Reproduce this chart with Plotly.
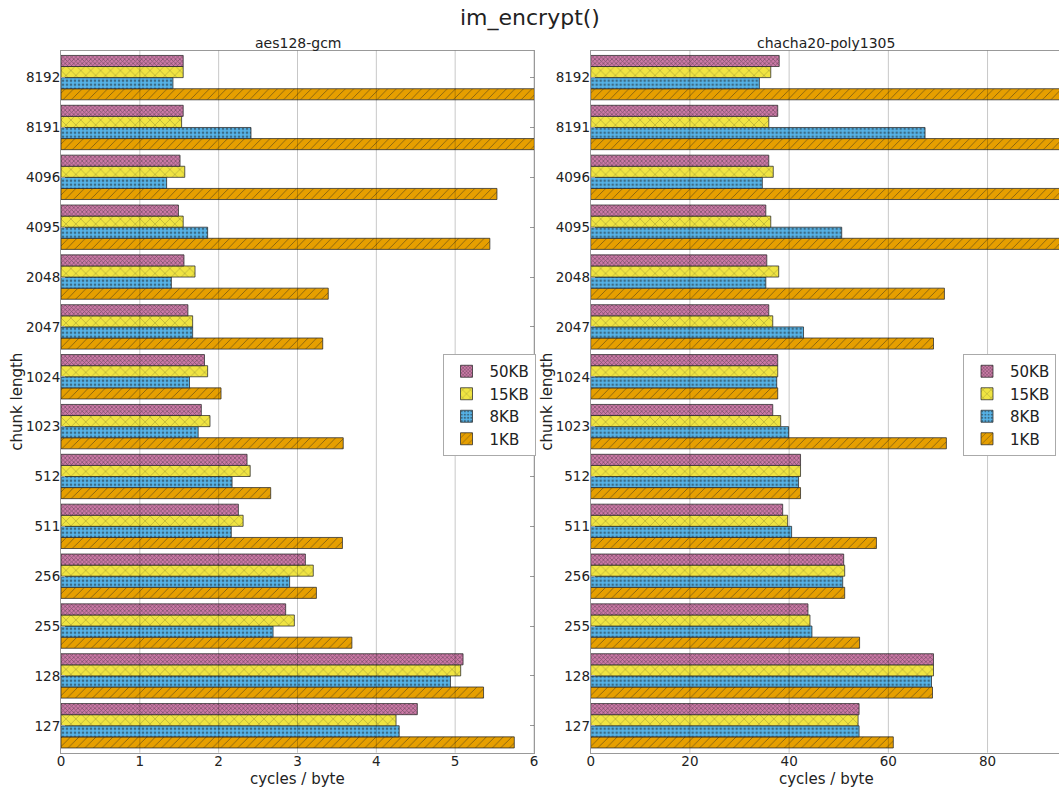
import plotly.graph_objects as go

# chunk lengths, listed top to bottom as shown
chunk_lengths = ["8192", "8191", "4096", "4095", "2048", "2047", "1024",
                 "1023", "512", "511", "256", "255", "128", "127"]
buffer_sizes = ["50KB", "15KB", "8KB", "1KB"]

# cycles / byte, aes128-gcm
aes_50kb = [1.55, 1.55, 1.51, 1.49, 1.56, 1.61, 1.82, 1.78, 2.36, 2.25, 3.10, 2.85, 5.10, 4.52]
aes_15kb = [1.55, 1.53, 1.57, 1.55, 1.70, 1.67, 1.86, 1.89, 2.40, 2.31, 3.20, 2.96, 5.07, 4.25]
aes_8kb = [1.42, 2.41, 1.34, 1.86, 1.40, 1.67, 1.63, 1.74, 2.17, 2.16, 2.90, 2.69, 4.94, 4.29]
aes_1kb = [6.9, 6.7, 5.53, 5.44, 3.39, 3.32, 2.03, 3.58, 2.66, 3.57, 3.24, 3.69, 5.36, 5.75]

# cycles / byte, chacha20-poly1305
cha_50kb = [38.0, 37.7, 35.9, 35.3, 35.5, 35.9, 37.7, 36.7, 42.3, 38.7, 51.0, 43.8, 69.1, 54.1]
cha_15kb = [36.3, 35.9, 36.8, 36.3, 37.9, 36.7, 37.7, 38.3, 42.3, 39.7, 51.2, 44.2, 69.1, 53.9]
cha_8kb = [34.0, 67.4, 34.6, 50.6, 35.3, 42.9, 37.5, 39.9, 41.9, 40.5, 50.8, 44.6, 68.7, 54.1]
cha_1kb = [112.0, 110.0, 106.0, 104.0, 71.3, 69.1, 37.7, 71.7, 42.3, 57.6, 51.2, 54.2, 68.9, 61.0]

aes_ticks = [0, 1, 2, 3, 4, 5, 6]
cha_ticks = [0, 20, 40, 60, 80]

aes_series = {"50KB": aes_50kb, "15KB": aes_15kb, "8KB": aes_8kb, "1KB": aes_1kb}
cha_series = {"50KB": cha_50kb, "15KB": cha_15kb, "8KB": cha_8kb, "1KB": cha_1kb}

styles = {
    "50KB": dict(color="#CC79A7", shape="x", size=3, solidity=0.4),
    "15KB": dict(color="#F0E442", shape="x", size=7, solidity=0.12),
    "8KB": dict(color="#56B4E9", shape=".", size=4, solidity=0.35),
    "1KB": dict(color="#E69F00", shape="/", size=6, solidity=0.15),
}

FONT = "DejaVu Sans"
INK = "#222"
fig = go.Figure()

# bottom-most bar in each group first, so 50KB sits on top
for series, xa, ya, leg in [(aes_series, "x", "y", "legend"),
                            (cha_series, "x2", "y2", "legend2")]:
    for name in reversed(buffer_sizes):
        st = styles[name]
        fig.add_trace(go.Bar(
            x=series[name], y=chunk_lengths, orientation="h", name=name,
            xaxis=xa, yaxis=ya, legend=leg,
            marker=dict(color=st["color"],
                        line=dict(color="rgba(40,40,40,0.75)", width=1),
                        pattern=dict(shape=st["shape"], size=st["size"],
                                     solidity=st["solidity"], fgcolor="#222",
                                     fillmode="overlay")),
        ))

order_bottom_up = list(reversed(chunk_lengths))
W, H = 1059, 787
px = lambda v: v / W
py = lambda v: (H - v) / H

y_common = dict(type="category", categoryorder="array", categoryarray=order_bottom_up,
                range=[-0.54, 13.54], domain=[py(752.7), py(50.7)], automargin=False,
                showgrid=False, showline=True, linecolor="#999", linewidth=1,
                ticks="inside", ticklen=4, tickcolor="#999", ticklabelstandoff=-3,
                tickfont=dict(family=FONT, size=13.5, color=INK), zeroline=False)
x_common = dict(showgrid=False, automargin=False,
                showline=True, linecolor="#999", linewidth=1, mirror=True,
                ticks="", zeroline=False, ticklabelstandoff=-4,
                tickfont=dict(family=FONT, size=13.5, color=INK))

legend_common = dict(traceorder="reversed", bgcolor="white", bordercolor="#aaa",
                     borderwidth=1, font=dict(family=FONT, size=15, color=INK),
                     yanchor="top", xanchor="right", tracegroupgap=0, itemwidth=36)


def label(text, x, y, size, angle=0):
    return dict(text=text, x=px(x), y=py(y), xref="paper", yref="paper",
                showarrow=False, xanchor="center", yanchor="middle", textangle=angle,
                font=dict(family=FONT, size=size, color=INK))


# vertical grid lines drawn over the bars
grid = []
for xref, yref, ticks in [("x", "y domain", aes_ticks), ("x2", "y2 domain", cha_ticks)]:
    for t in ticks[1:]:
        grid.append(dict(type="line", xref=xref, yref=yref, x0=t, x1=t, y0=0, y1=1,
                         line=dict(color="rgba(0,0,0,0.22)", width=1), layer="above"))

fig.update_layout(
    template="none",
    width=W, height=H, autosize=False,
    margin=dict(l=0, r=0, t=0, b=0, pad=0),
    paper_bgcolor="white", plot_bgcolor="white",
    barmode="group", bargap=0.11, bargroupgap=0,
    font=dict(family=FONT, color=INK),
    xaxis=dict(x_common, domain=[px(61), px(534)], range=[0, 6],
               tickvals=aes_ticks, anchor="y"),
    xaxis2=dict(x_common, domain=[px(590.7), 1.0], range=[0, 94.4],
                tickvals=cha_ticks, anchor="y2"),
    yaxis=dict(y_common, anchor="x", mirror="ticks"),
    yaxis2=dict(y_common, anchor="x2", mirror=False),
    legend=dict(legend_common, x=px(535.5), y=py(354)),
    legend2=dict(legend_common, x=px(1056), y=py(354)),
    shapes=grid,
    annotations=[
        label("im_encrypt()", 529.5, 18, 22),
        label("aes128-gcm", 297.5, 43, 14),
        label("chacha20-poly1305", 826, 43, 14),
        label("cycles / byte", 297.5, 778.5, 15),
        label("cycles / byte", 826, 778.5, 15),
        label("chunk length", 17, 401.7, 15, -90),
        label("chunk length", 547, 401.7, 15, -90),
    ],
)

fig.write_html("out.html")
